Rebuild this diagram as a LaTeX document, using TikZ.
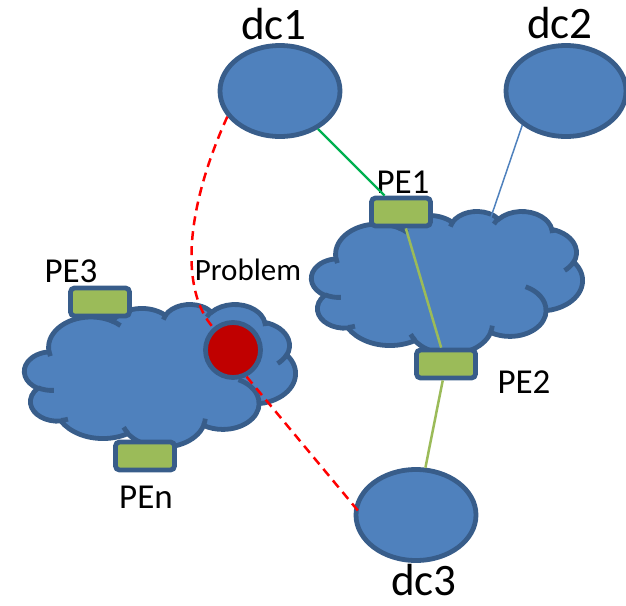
\documentclass[tikz,border=0pt]{standalone}
\usepackage{fontspec}
\setmainfont{Carlito}
\usepackage{tikz}
\usetikzlibrary{shapes.geometric}
\definecolor{nodeblue}{HTML}{4F81BD}
\definecolor{edgeblue}{HTML}{385D8A}
\definecolor{pegreen}{HTML}{9BBB59}
\definecolor{linkgreen}{HTML}{00B050}
\definecolor{alarmred}{HTML}{C00000}

% one lobe of the cloud: x radius, y radius, start angle, sweep (angles as seen on the page)
\newcommand\cloudarc[4]{%
  \pgfextra{%
    \pgfmathsetmacro\cta{atan2(#1*sin(#3), #2*cos(#3))}%
    \pgfmathsetmacro\ctb{atan2(#1*sin(#3+#4), #2*cos(#3+#4))}%
    \pgfmathsetmacro\ctd{\ctb-\cta+360*((#4>0)*(\ctb<\cta)-(#4<0)*(\ctb>\cta))}%
  }
  arc[start angle=\cta, delta angle=\ctd, x radius=#1, y radius=#2]}

% cloud in a 432 x 432 box, top left at the origin
\newcommand\netcloud{%
  \draw[cloudline, fill=nodeblue] (39.00,143.70)
    \cloudarc{67.53}{91.90}{-190.4875}{123.7805}
    \cloudarc{53.33}{72.67}{-144.1024}{89.9452}
    \cloudarc{43.65}{59.45}{-145.8079}{99.7230}
    \cloudarc{48.57}{65.95}{-130.9861}{117.2417}
    \cloudarc{53.33}{72.73}{-78.7089}{109.0269}
    \cloudarc{67.75}{92.20}{-46.2673}{130.2690}
    \cloudarc{57.85}{78.67}{0.6250}{114.0333}
    \cloudarc{67.52}{92.15}{22.4516}{115.1726}
    \cloudarc{77.20}{105.43}{66.2426}{75.7110}
    \cloudarc{43.60}{59.18}{-274.9421}{146.7356}
    \cloudarc{43.45}{59.45}{-246.8285}{152.5189} -- cycle;
  \draw[cloudline] (46.93,261.77) \cloudarc{43.45}{59.45}{86.7420}{26.4295};
  \draw[cloudline] (69.28,348.99) \cloudarc{43.60}{59.18}{73.6105}{11.4475};
  \draw[cloudline] (164.78,390.90) \cloudarc{67.52}{92.15}{137.6242}{14.0811};
  \draw[cloudline] (288.27,347.51) \cloudarc{67.52}{92.15}{6.4533}{15.9984};
  \draw[cloudline] (341.29,229.54) \cloudarc{57.85}{78.67}{-70.2924}{70.9174};
  \draw[cloudline] (417.98,153.54) \cloudarc{53.33}{72.73}{30.3180}{27.7515};
  \draw[cloudline] (383.24,54.26) \cloudarc{48.57}{65.95}{-13.7443}{14.8589};
  \draw[cloudline] (290.78,39.52) \cloudarc{48.57}{65.95}{-149.1815}{18.1954};
  \draw[cloudline] (221.41,47.20) \cloudarc{43.65}{59.45}{-163.4943}{17.6864};
  \draw[cloudline] (140.00,51.92) \cloudarc{67.53}{91.90}{-66.7070}{12.3194};
  \draw[cloudline] (41.27,157.89) \cloudarc{67.53}{91.90}{157.6544}{11.8582};
}

\begin{document}
\begin{tikzpicture}[x=1pt, y=-1pt,
            cloudline/.style={draw=edgeblue, line width=4.8pt},
            dc/.style={ellipse, draw=edgeblue, fill=nodeblue, line width=4.8pt, minimum width=120pt, minimum height=91pt, inner sep=0pt},
            pe/.style={rectangle, rounded corners=4pt, draw=edgeblue, fill=pegreen, line width=4.8pt, minimum width=59pt, minimum height=28pt, inner sep=0pt},
            fault/.style={circle, draw=edgeblue, fill=alarmred, line width=4.8pt, minimum size=55pt, inner sep=0pt},
            dclabel/.style={font=\fontsize{45}{54}\selectfont, anchor=base, inner sep=0pt},
            pelabel/.style={font=\fontsize{35}{42}\selectfont, anchor=base, inner sep=0pt}]
            \useasboundingbox (0,0) rectangle (626,605);
            % provider clouds
            \begin{scope}[shift={(311.5,211)}, x=0.6273pt, y=-0.33pt]
                \netcloud
            \end{scope}
            \begin{scope}[shift={(24.5,304)}, x=0.6273pt, y=-0.33pt]
                \netcloud
            \end{scope}
            % data centres
            \node[dc] (dc1) at (280,91) {};
            \node[dc] (dc2) at (566,91) {};
            \node[dc] (dc3) at (416,515) {};
            \node[dclabel] (t1) at (274,39) {dc1};
            \node[dclabel] (t2) at (560,38) {dc2};
            \node[dclabel] (t3) at (424,595) {dc3};
            % edge routers
            \node[pe] (PE1) at (401,212) {};
            \node[pe] (PE2) at (446,364) {};
            \node[pe] (PE3) at (100,302) {};
            \node[pe] (PEn) at (145,456) {};
            \node[pelabel] (l1) at (403,193) {PE1};
            \node[pelabel] (l2) at (524,393) {PE2};
            \node[pelabel] (l3) at (71,282) {PE3};
            \node[pelabel] (ln) at (146,508) {PEn};
            \node[fault] (prob) at (233,350) {};
            \node[font=\fontsize{31}{37}\selectfont, anchor=base, inner sep=0pt] (lp) at (248,280) {Problem};
            % links
            \coordinate (cRin) at (477,258);
            \draw[linkgreen, line width=2.2pt] (dc1) -- (PE1);
            \draw[nodeblue, line width=1.5pt] (dc2.218) -- (cRin);
            \draw[pegreen, line width=2.5pt] (PE1) -- (PE2);
            \draw[pegreen, line width=2.5pt] (PE2) -- (dc3);
            \draw[red, line width=2.5pt, dash pattern=on 9pt off 6pt] (dc1.206) .. controls (185,210) and (180,290) .. (prob);
            \draw[red, line width=2.5pt, dash pattern=on 9pt off 6pt] (prob.-63) -- ([xshift=8pt]dc3.west);
        \end{tikzpicture}
\end{document}
